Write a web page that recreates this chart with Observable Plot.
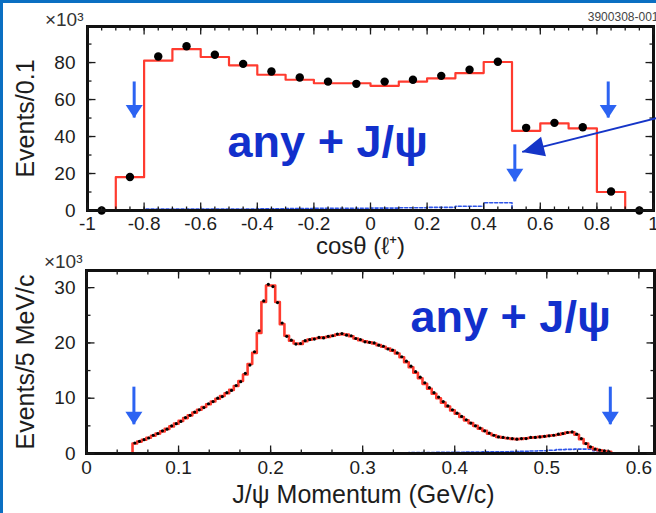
<!DOCTYPE html>
<html>
<head>
<meta charset="utf-8">
<script src="https://cdn.jsdelivr.net/npm/d3@7"></script>
<script src="https://cdn.jsdelivr.net/npm/@observablehq/plot@0.6"></script>
<style>
  html, body { margin: 0; padding: 0; background: #fff; }
  #page { position: relative; width: 656px; height: 513px; overflow: hidden; background: #fff; }
  #top, #bottom { position: absolute; left: 0; }
  #top { top: 0; }
  #bottom { top: 256px; }
  #edge { position: absolute; left: 0; top: 0; width: 656px; height: 513px; box-sizing: border-box;
          border-top: 3px solid #0b6fc2; border-left: 3px solid #0b6fc2; pointer-events: none; }
</style>
</head>
<body>
<div id="page"><div id="top"></div><div id="bottom"></div><div id="edge"></div></div>
<script>
// ---- cos(theta) of the lepton: 20 bins of 0.1 from -1 to 1 (thousands of events) ----
const cosStart = -1, cosWidth = 0.1;
const cosMC   = [0, 18, 81, 87.3, 83, 78.5, 73.4, 70.7, 68.8, 68.8, 67.4, 69.7, 71.5, 74.3, 80.3, 43.1, 47.1, 44.4, 10, 0];
const cosData = [0, 18.1, 83.3, 88.8, 84.2, 79.3, 75.2, 71.9, 69.7, 68.5, 69.7, 70.7, 72.8, 76.1, 80.4, 44.7, 47.4, 45.0, 10.3, 0];
const cosBkg  = [0, 0.3, 0.8, 0.8, 0.8, 0.8, 0.9, 1.1, 1.2, 1.2, 1.3, 1.5, 1.7, 2.3, 4.2, 0, 0, 0, 0, 0];
const cosTicks = [-1, -0.8, -0.6, -0.4, -0.2, 0, 0.2, 0.4, 0.6, 0.8, 1];
const cosCountTicks = [0, 20, 40, 60, 80];
const cosCuts = [-0.835, 0.51, 0.84];

// ---- J/psi momentum: 5 MeV/c bins from 0.050 to 0.570 GeV/c (thousands of events) ----
const pStart = 0.05, pWidth = 0.005;
const pMC = [
  1.8, 2.15, 2.5, 2.85, 3.2, 3.6, 4.0, 4.45, 4.9, 5.4,
  5.9, 6.4, 6.9, 7.4, 7.9, 8.4, 8.9, 9.4, 9.9, 10.4,
  10.9, 11.5, 12.2, 13.1, 14.3, 16.2, 18.2, 21.8, 27.4, 30.4,
  30.4, 27.4, 23.4, 21.3, 20.4, 19.9, 19.8, 20.3, 20.6, 20.8,
  20.9, 21.0, 21.1, 21.3, 21.5, 21.6, 21.5, 21.2, 20.8, 20.5,
  20.3, 20.1, 19.9, 19.6, 19.3, 19.0, 18.6, 18.1, 17.4, 16.5,
  15.6, 14.6, 13.6, 12.6, 11.7, 10.8, 10.0, 9.2, 8.5, 7.8,
  7.2, 6.6, 6.0, 5.5, 5.0, 4.5, 4.1, 3.6, 3.3, 3.0,
  2.85, 2.75, 2.65, 2.6, 2.65, 2.75, 2.85, 2.95, 3.0, 3.1,
  3.2, 3.3, 3.4, 3.6, 3.8, 3.85, 3.4, 2.6, 1.8, 1.1,
  0.8, 0.6, 0.45, 0.3
];
const pData = [
  1.9, 2.2, 2.5, 2.8, 3.3, 3.6, 4.1, 4.4, 5.0, 5.4,
  5.8, 6.5, 6.9, 7.5, 7.9, 8.3, 9.0, 9.4, 10.0, 10.3,
  11.0, 11.4, 12.3, 13.0, 14.5, 16.0, 18.4, 22.2, 27.6, 30.6,
  30.2, 27.3, 23.6, 21.2, 20.5, 19.8, 19.9, 20.4, 20.6, 20.7,
  21.0, 20.9, 21.2, 21.3, 21.6, 21.7, 21.4, 21.3, 20.8, 20.6,
  20.2, 20.1, 20.0, 19.6, 19.4, 18.9, 18.7, 18.2, 17.5, 16.7,
  15.8, 14.8, 13.8, 12.8, 11.9, 11.0, 10.2, 9.4, 8.6, 7.9,
  7.3, 6.7, 6.1, 5.5, 5.0, 4.6, 4.1, 3.7, 3.3, 3.0,
  2.9, 2.8, 2.7, 2.6, 2.7, 2.7, 2.9, 2.9, 3.0, 3.1,
  3.2, 3.3, 3.5, 3.6, 3.8, 3.9, 3.5, 2.7, 1.8, 1.2,
  0.8, 0.6, 0.5, 0.3
];
// background component in 10 MeV/c bins from 0.05 to 0.57
const pBkgStart = 0.05, pBkgWidth = 0.01;
const pBkg = [
  0.05, 0.05, 0.05, 0.05, 0.05, 0.05, 0.05, 0.05, 0.05, 0.05,
  0.08, 0.08, 0.08, 0.08, 0.08, 0.08, 0.08, 0.08, 0.08, 0.08,
  0.12, 0.12, 0.12, 0.12, 0.12, 0.12, 0.12, 0.12, 0.12, 0.12,
  0.15, 0.15, 0.18, 0.2, 0.2, 0.22, 0.25, 0.28, 0.3, 0.3,
  0.32, 0.35, 0.4, 0.45, 0.5, 0.6, 0.7, 0.75, 0.8, 0.8,
  0.5, 0.2
];
const pTicks = [0, 0.1, 0.2, 0.3, 0.4, 0.5, 0.6];
const pCountTicks = [0, 10, 20, 30];
const pCuts = [0.0515, 0.569];

// ---- helpers ----
const fmt = d => String(Math.round(d * 10) / 10);

// histogram outline as a step path over bin edges, closed down to zero at both ends
function stepPoints(start, width, values) {
  const pts = [{x: start, y: 0}];
  values.forEach((v, i) => pts.push({x: start + i * width, y: v}));
  const end = start + values.length * width;
  pts.push({x: end, y: values[values.length - 1]});
  pts.push({x: end, y: 0});
  return pts;
}
const binCenters = (start, width, values) =>
  values.map((v, i) => ({x: start + (i + 0.5) * width, y: v}));

// a straight tick segment used as a dot symbol
function tickSymbol(len, dir) {
  const [dx, dy] = {up: [0, -len], down: [0, len], right: [len, 0], left: [-len, 0]}[dir];
  return {draw(ctx) { ctx.moveTo(0, 0); ctx.lineTo(dx, dy); }};
}
// filled arrowhead whose tip sits on the anchor point; angle 0 points down
function headSymbol(len, width, angleDeg = 0) {
  const a = angleDeg * Math.PI / 180, c = Math.cos(a), s = Math.sin(a);
  const rot = (x, y) => [x * c - y * s, x * s + y * c];
  return {draw(ctx) {
    const p1 = rot(-width / 2, -len), p2 = rot(width / 2, -len);
    ctx.moveTo(0, 0); ctx.lineTo(p1[0], p1[1]); ctx.lineTo(p2[0], p2[1]); ctx.closePath();
  }};
}
// inward ticks on all four sides of the frame
function frameTicks(xs, ys, xd, yd, len) {
  const s = {fill: "none", stroke: "#1a1a1a", strokeWidth: 1.3};
  return [
    Plot.dot(xs, {x: d => d, y: yd[0], symbol: tickSymbol(len, "up"), ...s}),
    Plot.dot(xs, {x: d => d, y: yd[1], symbol: tickSymbol(len, "down"), ...s}),
    Plot.dot(ys, {x: xd[0], y: d => d, symbol: tickSymbol(len, "right"), ...s}),
    Plot.dot(ys, {x: xd[1], y: d => d, symbol: tickSymbol(len, "left"), ...s})
  ];
}

const font = "Liberation Sans, Arial, Helvetica, sans-serif";
const red = "#ff3b2f", cutBlue = "#2c63f2", labelBlue = "#1230cc", bkgBlue = "#2f55e8";
const ink = "#1d1d1d";

// ---------------- top panel ----------------
{
  const W = 656, H = 256, mL = 87, mR = 3, mT = 26, mB = 46;
  const xd = [-1, 1], yd = [0, 99.5];
  const cuts = cosCuts.map((x, i) => ({x, from: i === 1 ? 35.5 : 69.5, to: i === 1 ? 15.5 : 50}));
  // pointer from the right margin toward the central cut
  const pointer = {x1: 1.0106, y1: 50, x2: 0.536, y2: 31.7};
  const sx = d3.scaleLinear(xd, [mL, W - mR]), sy = d3.scaleLinear(yd, [H - mB, mT]);
  const ang = Math.atan2(-(sx(pointer.x2) - sx(pointer.x1)), sy(pointer.y2) - sy(pointer.y1)) * 180 / Math.PI;

  const plot = Plot.plot({
    width: W, height: H, marginLeft: mL, marginRight: mR, marginTop: mT, marginBottom: mB,
    style: {fontFamily: font, fontSize: "19px", color: ink, background: "transparent", overflow: "visible"},
    x: {domain: xd, ticks: cosTicks, tickFormat: fmt, tickSize: 0, tickPadding: 6, label: null},
    y: {domain: yd, ticks: cosCountTicks, tickFormat: fmt, tickSize: 0, tickPadding: 12, label: null},
    marks: [
      Plot.line(stepPoints(cosStart, cosWidth, cosBkg), {x: "x", y: "y", curve: "step-after", stroke: bkgBlue, strokeWidth: 1.6, strokeDasharray: "3,2"}),
      Plot.line(stepPoints(cosStart, cosWidth, cosMC), {x: "x", y: "y", curve: "step-after", stroke: red, strokeWidth: 2.2}),
      Plot.dot(binCenters(cosStart, cosWidth, cosData), {x: "x", y: "y", r: 4.2, fill: "#000"}),
      Plot.frame({stroke: "#111", strokeWidth: 3}),
      ...frameTicks(d3.range(-1, 1.001, 0.05), d3.range(0, 99, 10), xd, yd, 4),
      ...frameTicks(cosTicks, cosCountTicks, xd, yd, 8),
      Plot.ruleX(cuts, {x: "x", y1: "from", y2: "to", stroke: cutBlue, strokeWidth: 3}),
      Plot.dot(cuts, {x: "x", y: "to", symbol: headSymbol(13, 17), fill: cutBlue, stroke: "none"}),
      Plot.link([pointer], {x1: "x1", y1: "y1", x2: "x2", y2: "y2", stroke: "#1535c8", strokeWidth: 2}),
      Plot.dot([pointer], {x: "x2", y: "y2", symbol: headSymbol(22, 20, ang), fill: "#1535c8", stroke: "none"}),
      Plot.text(["any + J/ψ"], {x: -0.505, y: 36.8, text: d => d, textAnchor: "start", lineAnchor: "middle", fontSize: 45, fontWeight: "bold", fill: labelBlue}),
      Plot.text(["Events/0.1"], {frameAnchor: "left", dx: -62, rotate: -90, textAnchor: "middle", lineAnchor: "middle", fontSize: 25, fill: ink}),
      Plot.text(["cosθ (ℓ⁺)"], {frameAnchor: "bottom", dx: -10, dy: 36, textAnchor: "middle", lineAnchor: "middle", fontSize: 24, fill: ink}),
      Plot.text(["×10³"], {frameAnchor: "top-left", dx: -4, dy: -7, textAnchor: "end", lineAnchor: "middle", fontSize: 19, fill: "#333"}),
      Plot.text(["3900308-001"], {frameAnchor: "top-right", dx: 5, dy: -9, textAnchor: "end", lineAnchor: "middle", fontSize: 12, fill: "#444"})
    ]
  });
  document.getElementById("top").appendChild(plot);
}

// ---------------- bottom panel ----------------
{
  const W = 656, H = 257, mL = 86, mR = 2, mT = 14, mB = 60;
  const xd = [0, 0.617], yd = [0, 33.1];
  const cuts = pCuts.map(x => ({x, from: 12, to: 5.2}));

  const plot = Plot.plot({
    width: W, height: H, marginLeft: mL, marginRight: mR, marginTop: mT, marginBottom: mB,
    style: {fontFamily: font, fontSize: "19px", color: ink, background: "transparent", overflow: "visible"},
    x: {domain: xd, ticks: pTicks, tickFormat: fmt, tickSize: 0, tickPadding: 7, label: null},
    y: {domain: yd, ticks: pCountTicks, tickFormat: fmt, tickSize: 0, tickPadding: 11, label: null},
    marks: [
      Plot.line(stepPoints(pBkgStart, pBkgWidth, pBkg), {x: "x", y: "y", curve: "step-after", stroke: bkgBlue, strokeWidth: 1.6, strokeDasharray: "3,2"}),
      Plot.line(stepPoints(pStart, pWidth, pMC), {x: "x", y: "y", curve: "step-after", stroke: red, strokeWidth: 2.6}),
      Plot.dot(binCenters(pStart, pWidth, pData), {x: "x", y: "y", r: 1.6, fill: "#000"}),
      Plot.frame({stroke: "#111", strokeWidth: 3}),
      ...frameTicks(d3.range(0, 0.617, 0.1 / 3), d3.range(0, 33, 5), xd, yd, 4),
      ...frameTicks(pTicks, pCountTicks, xd, yd, 8),
      Plot.ruleX(cuts, {x: "x", y1: "from", y2: "to", stroke: cutBlue, strokeWidth: 3}),
      Plot.dot(cuts, {x: "x", y: "to", symbol: headSymbol(13, 17), fill: cutBlue, stroke: "none"}),
      Plot.text(["any + J/ψ"], {x: 0.352, y: 24.6, text: d => d, textAnchor: "start", lineAnchor: "middle", fontSize: 45, fontWeight: "bold", fill: labelBlue}),
      Plot.text(["Events/5 MeV/c"], {frameAnchor: "left", dx: -61, rotate: -90, textAnchor: "middle", lineAnchor: "middle", fontSize: 25, fill: ink}),
      Plot.text(["J/ψ Momentum (GeV/c)"], {frameAnchor: "bottom", dx: -7, dy: 41, textAnchor: "middle", lineAnchor: "middle", fontSize: 25, fill: ink}),
      Plot.text(["×10³"], {frameAnchor: "top-left", dx: -4, dy: -9, textAnchor: "end", lineAnchor: "middle", fontSize: 19, fill: "#333"})
    ]
  });
  document.getElementById("bottom").appendChild(plot);
}
</script>
</body>
</html>
